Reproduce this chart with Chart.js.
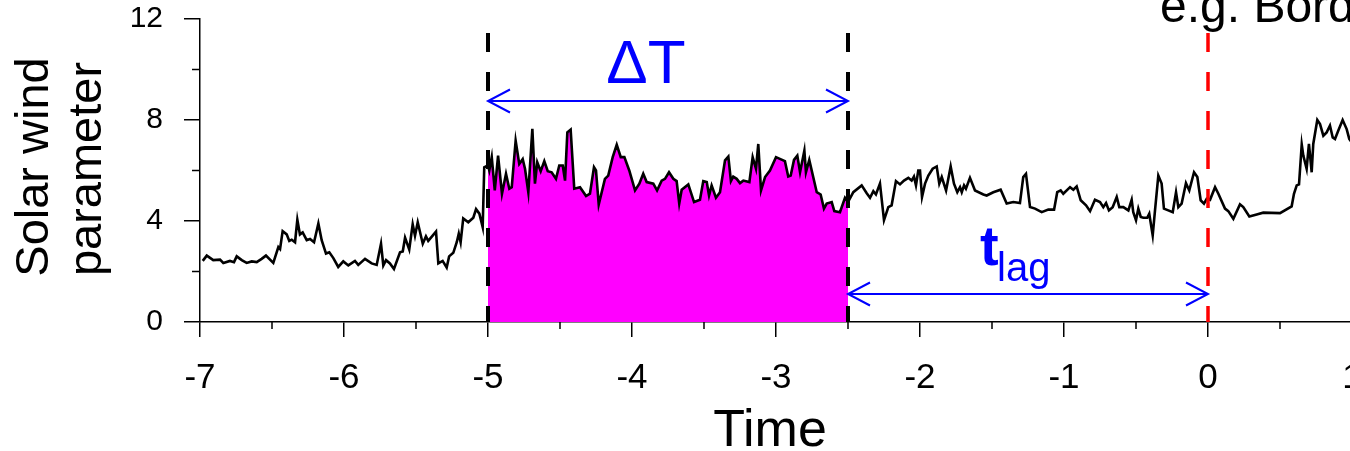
<!DOCTYPE html>
<html>
<head>
<meta charset="utf-8">
<script src="https://cdn.jsdelivr.net/npm/chart.js@4.4.1/dist/chart.umd.min.js"></script>
<style>
  html, body { margin: 0; padding: 0; background: #fff; overflow: hidden; }
  #wrap { width: 1350px; height: 451px; overflow: hidden; }
  canvas { display: block; }
</style>
</head>
<body>
<div id="wrap"><canvas id="chart" width="1372" height="451"></canvas></div>
<script>
// time axis (arbitrary units) and solar wind parameter
const times = [
  -6.981, -6.953, -6.908, -6.861, -6.838, -6.792, -6.764, -6.745, -6.710, -6.676,
  -6.641, -6.606, -6.572, -6.542, -6.491, -6.456, -6.444, -6.426, -6.398, -6.380,
  -6.363, -6.340, -6.324, -6.306, -6.287, -6.259, -6.236, -6.208, -6.178, -6.155,
  -6.125, -6.102, -6.074, -6.040, -6.005, -5.970, -5.924, -5.901, -5.854, -5.808,
  -5.773, -5.743, -5.727, -5.708, -5.681, -5.653, -5.611, -5.592, -5.576, -5.547,
  -5.523, -5.507, -5.488, -5.453, -5.431, -5.415, -5.361, -5.345, -5.315, -5.287,
  -5.270, -5.241, -5.217, -5.203, -5.190, -5.172, -5.137, -5.102, -5.083, -5.060,
  -5.037, -5.026, -5.000, -4.991, -4.974, -4.953, -4.930, -4.903, -4.875, -4.852,
  -4.835, -4.808, -4.783, -4.759, -4.743, -4.720, -4.692, -4.674, -4.658, -4.634,
  -4.609, -4.585, -4.558, -4.528, -4.505, -4.481, -4.465, -4.449, -4.426, -4.401,
  -4.361, -4.319, -4.292, -4.264, -4.250, -4.231, -4.188, -4.165, -4.134, -4.106,
  -4.078, -4.053, -4.019, -3.979, -3.949, -3.922, -3.898, -3.852, -3.826, -3.794,
  -3.771, -3.743, -3.713, -3.690, -3.672, -3.655, -3.609, -3.569, -3.528, -3.505,
  -3.481, -3.465, -3.447, -3.417, -3.389, -3.354, -3.331, -3.313, -3.297, -3.273,
  -3.250, -3.227, -3.185, -3.162, -3.139, -3.123, -3.104, -3.076, -3.042, -3.000,
  -2.938, -2.915, -2.898, -2.875, -2.852, -2.833, -2.803, -2.792, -2.769, -2.717,
  -2.690, -2.667, -2.648, -2.613, -2.595, -2.556, -2.521, -2.500, -2.463, -2.405,
  -2.370, -2.347, -2.324, -2.306, -2.278, -2.250, -2.220, -2.197, -2.167, -2.139,
  -2.111, -2.081, -2.058, -2.042, -2.028, -2.012, -2.000, -1.986, -1.965, -1.942,
  -1.912, -1.884, -1.866, -1.849, -1.819, -1.787, -1.764, -1.741, -1.722, -1.710,
  -1.694, -1.681, -1.653, -1.618, -1.560, -1.537, -1.491, -1.440, -1.398, -1.352,
  -1.306, -1.283, -1.264, -1.236, -1.201, -1.155, -1.109, -1.069, -1.047, -1.023,
  -1.005, -0.958, -0.935, -0.912, -0.884, -0.847, -0.819, -0.785, -0.750, -0.727,
  -0.708, -0.688, -0.662, -0.634, -0.616, -0.588, -0.553, -0.530, -0.519, -0.500,
  -0.484, -0.467, -0.449, -0.422, -0.408, -0.384, -0.368, -0.345, -0.322, -0.306,
  -0.276, -0.245, -0.222, -0.206, -0.183, -0.153, -0.130, -0.097, -0.074, -0.051,
  -0.028, -0.009, 0.014, 0.049, 0.072, 0.118, 0.141, 0.176, 0.222, 0.245,
  0.287, 0.338, 0.384, 0.500, 0.581, 0.597, 0.616, 0.632, 0.651, 0.662,
  0.685, 0.701, 0.720, 0.731, 0.759, 0.778, 0.801, 0.824, 0.847, 0.866,
  0.882, 0.905, 0.935, 0.963, 0.981, 1.000
];
const values = [
  2.42, 2.63, 2.45, 2.47, 2.34, 2.42, 2.37, 2.60, 2.45, 2.34,
  2.40, 2.37, 2.50, 2.63, 2.34, 2.97, 2.89, 3.60, 3.47, 3.21,
  3.26, 3.16, 4.05, 3.47, 3.55, 3.24, 3.29, 3.16, 3.90, 3.24,
  2.71, 2.76, 2.53, 2.18, 2.40, 2.24, 2.42, 2.26, 2.50, 2.32,
  2.26, 3.10, 2.24, 2.45, 2.32, 2.10, 2.76, 2.79, 3.34, 2.87,
  3.87, 3.42, 3.95, 3.10, 3.39, 3.21, 3.58, 2.32, 2.42, 2.16,
  2.60, 2.74, 3.16, 3.50, 3.16, 4.10, 3.95, 4.13, 4.47, 4.29,
  3.76, 6.13, 6.20, 6.00, 6.53, 5.21, 6.59, 5.08, 5.87, 5.28,
  5.34, 7.18, 6.26, 6.45, 6.07, 5.14, 7.65, 5.48, 6.33, 5.97,
  6.37, 5.97, 5.93, 5.67, 6.20, 6.20, 5.60, 7.51, 7.62, 5.28,
  5.34, 4.99, 5.08, 6.13, 6.00, 4.65, 5.67, 5.80, 6.53, 7.02,
  6.53, 6.53, 6.00, 5.21, 5.48, 5.87, 5.54, 5.48, 5.21, 5.60,
  5.67, 5.93, 5.67, 5.58, 4.69, 5.24, 5.45, 4.75, 4.84, 5.58,
  5.54, 5.01, 5.41, 4.92, 5.14, 6.40, 6.55, 5.58, 5.76, 5.67,
  5.50, 5.60, 5.54, 6.53, 6.07, 7.05, 5.21, 5.74, 6.00, 6.53,
  6.37, 5.76, 5.80, 6.42, 6.59, 5.93, 6.79, 5.93, 6.42, 5.14,
  5.05, 4.49, 4.69, 4.75, 4.39, 4.35, 4.92, 4.75, 5.14, 5.41,
  5.10, 4.92, 5.18, 5.05, 5.48, 4.03, 4.55, 4.62, 5.58, 5.45,
  5.60, 5.71, 5.60, 5.76, 5.41, 6.00, 6.00, 4.95, 5.48, 5.80,
  6.07, 6.16, 5.48, 5.74, 5.21, 6.16, 5.48, 5.14, 5.34, 5.14,
  5.41, 5.28, 5.71, 5.21, 5.05, 5.01, 5.14, 5.24, 4.69, 4.75,
  4.71, 5.74, 5.87, 4.55, 4.49, 4.35, 4.45, 4.45, 5.14, 5.21,
  5.08, 5.34, 5.24, 5.37, 4.82, 4.62, 4.39, 4.84, 4.75, 4.55,
  4.71, 4.42, 4.55, 4.95, 4.55, 4.55, 4.42, 4.84, 4.35, 4.03,
  4.49, 4.16, 4.13, 4.13, 4.29, 3.43, 4.42, 5.80, 5.48, 4.49,
  4.42, 4.35, 5.14, 4.55, 4.69, 5.50, 5.21, 5.93, 5.74, 4.82,
  4.69, 4.88, 4.84, 5.34, 5.08, 4.49, 4.39, 4.09, 4.66, 4.55,
  4.18, 4.26, 4.33, 4.31, 4.58, 5.08, 5.41, 5.45, 7.03, 6.59,
  6.07, 7.05, 5.93, 7.05, 8.00, 7.84, 7.38, 7.51, 7.78, 7.31,
  7.25, 7.58, 8.00, 7.64, 7.25, 7.10
];

const xTicks = [-7, -6, -5, -4, -3, -2, -1, 0, 1];
const xMinorTicks = [-6.5, -5.5, -4.5, -3.5, -2.5, -1.5, -0.5, 0.5];
const yTicks = [0, 4, 8, 12];
const yMinorTicks = [2, 6, 10];

const windowStart = -5;   // start of averaging window
const windowEnd = -2.5;   // end of averaging window
const eventTime = 0;      // time of the event

const FONT = "'Liberation Sans', Arial, Helvetica, sans-serif";
const BLUE = '#0000ff';

const points = times.map((t, i) => ({ x: t, y: values[i] }));
const windowPoints = points.filter(p => p.x >= windowStart && p.x <= windowEnd);

function drawArrow(ctx, x1, x2, y) {
  const len = 22, half = 11.5;
  ctx.beginPath();
  ctx.moveTo(x1, y); ctx.lineTo(x2, y);
  ctx.moveTo(x1 + len, y - half); ctx.lineTo(x1, y); ctx.lineTo(x1 + len, y + half);
  ctx.moveTo(x2 - len, y - half); ctx.lineTo(x2, y); ctx.lineTo(x2 - len, y + half);
  ctx.stroke();
}

const decor = {
  id: 'decor',
  afterDraw(chart) {
    const { ctx, chartArea } = chart;
    const xs = chart.scales.x, ys = chart.scales.y;
    const bottom = chartArea.bottom, left = chartArea.left;

    ctx.save();
    // minor ticks
    ctx.strokeStyle = '#000';
    ctx.lineWidth = 1.5;
    ctx.beginPath();
    xMinorTicks.forEach(v => {
      const px = xs.getPixelForValue(v);
      ctx.moveTo(px, bottom); ctx.lineTo(px, bottom + 7);
    });
    yMinorTicks.forEach(v => {
      const py = ys.getPixelForValue(v);
      ctx.moveTo(left - 8, py); ctx.lineTo(left, py);
    });
    ctx.stroke();

    // dashed markers
    const top = 33;
    ctx.setLineDash([19, 20]);
    ctx.lineWidth = 4;
    ctx.strokeStyle = '#000';
    [windowStart, windowEnd].forEach(v => {
      const px = xs.getPixelForValue(v);
      ctx.beginPath(); ctx.moveTo(px, top); ctx.lineTo(px, bottom); ctx.stroke();
    });
    ctx.lineWidth = 3.5;
    ctx.strokeStyle = '#ff0000';
    const pe = xs.getPixelForValue(eventTime);
    ctx.beginPath(); ctx.moveTo(pe, top); ctx.lineTo(pe, bottom); ctx.stroke();
    ctx.setLineDash([]);

    // arrows
    ctx.strokeStyle = BLUE;
    ctx.lineWidth = 2;
    const pa = xs.getPixelForValue(windowStart), pb = xs.getPixelForValue(windowEnd);
    drawArrow(ctx, pa, pb, 101);
    drawArrow(ctx, pb, pe, 294);

    // annotation text
    ctx.fillStyle = BLUE;
    ctx.textBaseline = 'alphabetic';
    ctx.textAlign = 'center';
    ctx.font = '62px ' + FONT;
    ctx.fillText('\u0394T', (pa + pb) / 2 - 22, 83);
    ctx.textAlign = 'left';
    ctx.font = 'bold 56px ' + FONT;
    ctx.fillText('t', 980, 265);
    ctx.font = '40px ' + FONT;
    ctx.fillText('lag', 997, 281);

    ctx.fillStyle = '#000';
    ctx.font = '48px ' + FONT;
    ctx.fillText('e.g. Bord', 1160, 22);

    // axis titles
    ctx.textAlign = 'center';
    ctx.font = '52px ' + FONT;
    ctx.fillText('Time', 770, 446);
    ctx.font = '47px ' + FONT;
    ctx.translate(48, 167);
    ctx.rotate(-Math.PI / 2);
    ctx.fillText('Solar wind', 0, 0);
    ctx.fillText('parameter', -2, 53);
    ctx.restore();
  }
};

new Chart(document.getElementById('chart'), {
  type: 'line',
  data: {
    datasets: [
      {
        data: points,
        borderColor: '#000',
        borderWidth: 2.6,
        pointRadius: 0,
        tension: 0,
        fill: false
      },
      {
        data: windowPoints,
        borderColor: 'rgba(0,0,0,0)',
        borderWidth: 0,
        pointRadius: 0,
        tension: 0,
        backgroundColor: '#ff00ff',
        fill: 'origin'
      }
    ]
  },
  options: {
    responsive: false,
    animation: false,
    devicePixelRatio: 1,
    layout: { padding: { top: 19, right: 20, left: 0, bottom: 0 } },
    plugins: { legend: { display: false }, tooltip: { enabled: false } },
    scales: {
      x: {
        type: 'linear',
        min: -7,
        max: 1,
        afterBuildTicks: s => { s.ticks = xTicks.map(v => ({ value: v })); },
        afterFit: s => { s.height = 129; s.paddingLeft = 0; s.paddingRight = 0; },
        grid: { drawOnChartArea: false, drawTicks: true, tickLength: 15, color: '#000', lineWidth: 1.5 },
        border: { display: true, color: '#000', width: 1.5 },
        ticks: {
          color: '#000',
          font: { family: FONT, size: 35 },
          padding: 20,
          maxRotation: 0,
          autoSkip: false,
          callback: v => String(v)
        }
      },
      y: {
        min: 0,
        max: 12,
        afterBuildTicks: s => { s.ticks = yTicks.map(v => ({ value: v })); },
        afterFit: s => { s.width = 200; s.paddingTop = 0; s.paddingBottom = 0; },
        grid: { drawOnChartArea: false, drawTicks: true, tickLength: 16, color: '#000', lineWidth: 1.5 },
        border: { display: true, color: '#000', width: 1.5 },
        ticks: {
          color: '#000',
          font: { family: FONT, size: 30 },
          padding: 21,
          callback: v => String(v)
        }
      }
    }
  },
  plugins: [decor]
});
</script>
</body>
</html>
